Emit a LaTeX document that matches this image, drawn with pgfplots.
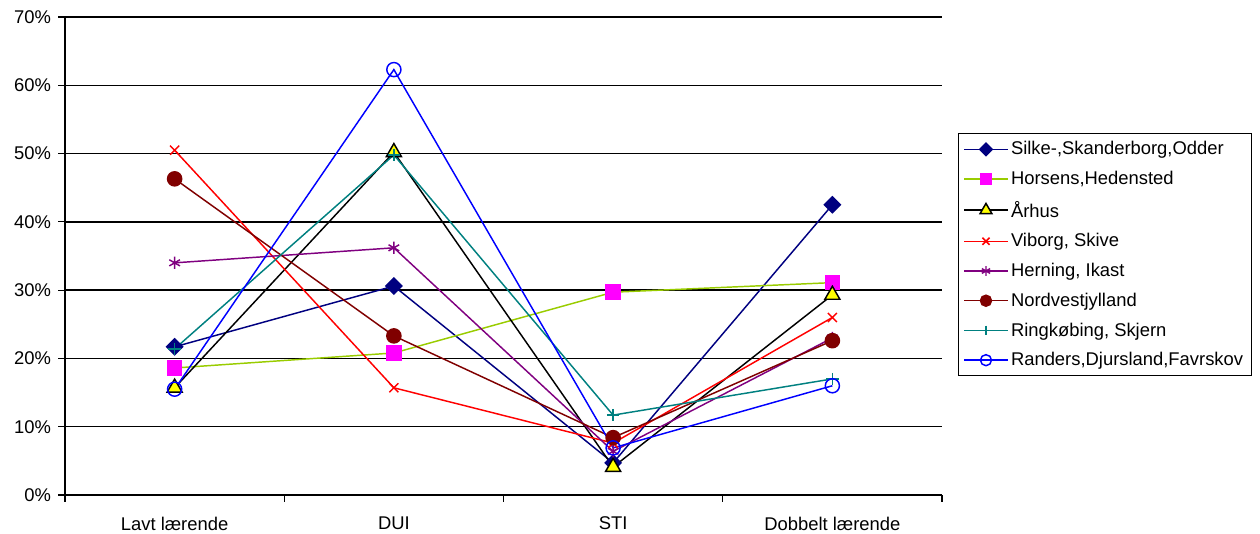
\documentclass[border=0pt]{standalone}
\usepackage{pgfplots}
\pgfplotsset{compat=1.18}
\usepackage{fontspec}
\setmainfont{Liberation Sans}
\definecolor{cnavy}{RGB}{0,0,128}
\definecolor{cygreen}{RGB}{153,204,0}
\definecolor{cmag}{RGB}{255,0,255}
\definecolor{cyel}{RGB}{255,255,0}
\definecolor{cpurple}{RGB}{128,0,128}
\definecolor{cdred}{RGB}{128,0,0}
\definecolor{cteal}{RGB}{0,128,128}
\definecolor{cblue}{RGB}{0,0,255}
\begin{document}
\begin{tikzpicture}
\useasboundingbox (-48.75pt,-28.5pt) rectangle (896.25pt,371.25pt);
\begin{axis}[
  at={(0,0)}, anchor=south west,
  scale only axis, width=657.75pt, height=358.5pt,
  xmin=-0.5, xmax=3.5, ymin=0, ymax=70,
  axis lines=left, axis line style={-, line width=1.1pt, black},
  ytick={0,10,...,70},
  yticklabel={\pgfmathprintnumber{\tick}\%},
  /pgf/number format/assume math mode=true,
  xtick={0,1,2,3},
  xticklabels={Lavt lærende, DUI, STI, Dobbelt lærende},
  minor xtick={-0.5,0.5,1.5,2.5,3.5},
  tick align=outside,
  major tick length=5pt, minor tick length=5pt,
  major x tick style={draw=none},
  tick style={black, line width=0.9pt},
  ymajorgrids, grid style={black, line width=1.1pt},
  ticklabel style={font=\fontsize{13.8}{16}\selectfont},
  xticklabel style={yshift=-8pt},
  yticklabel style={xshift=-2pt},
  clip=false,
  legend style={at={(1.018,0.757)}, anchor=north west, draw=black, line width=0.75pt,
    font=\fontsize{13.8}{16}\selectfont, row sep=6.8pt, inner sep=4pt},
  legend cell align=left,
  legend image code/.code={\draw[mark repeat=2,mark phase=2, every mark/.append style={scale=0.78}] plot coordinates {(0cm,0cm) (0.57cm,0cm) (1.14cm,0cm)};},
  every axis plot/.append style={line width=1.1pt},
]
\addplot[color=cnavy, mark=square*, mark size=4.2pt, mark options={solid, fill=cnavy, rotate=45}]
  coordinates {(0,21.7) (1,30.6) (2,4.7) (3,42.5)};
\addlegendentry{Silke-,Skanderborg,Odder}
\addplot[color=cygreen, mark=square*, mark size=5.3pt, mark options={solid, fill=cmag, draw=cmag}]
  coordinates {(0,18.6) (1,20.8) (2,29.7) (3,31.1)};
\addlegendentry{Horsens,Hedensted}
\addplot[color=black, mark=triangle*, mark size=6.5pt, mark options={solid, fill=cyel, draw=black}]
  coordinates {(0,15.7) (1,50.2) (2,4.1) (3,29.3)};
\addlegendentry{Århus}
\addplot[color=red, mark=x, mark size=4.8pt, mark options={solid}]
  coordinates {(0,50.5) (1,15.7) (2,7.6) (3,26.0)};
\addlegendentry{Viborg, Skive}
\addplot[color=cpurple, mark=asterisk, mark size=4.6pt, mark options={solid}]
  coordinates {(0,34.0) (1,36.2) (2,6.4) (3,23.0)};
\addlegendentry{Herning, Ikast}
\addplot[color=cdred, mark=*, mark size=5.3pt, mark options={solid, fill=cdred}]
  coordinates {(0,46.3) (1,23.3) (2,8.4) (3,22.6)};
\addlegendentry{Nordvestjylland}
\addplot[color=cteal, mark=+, mark size=4.6pt, mark options={solid}]
  coordinates {(0,21.4) (1,49.8) (2,11.7) (3,17.0)};
\addlegendentry{Ringkøbing, Skjern}
\addplot[color=cblue, mark=o, mark size=5.3pt, mark options={solid}]
  coordinates {(0,15.5) (1,62.3) (2,6.9) (3,16.0)};
\addlegendentry{Randers,Djursland,Favrskov}
\end{axis}
\end{tikzpicture}
\end{document}
